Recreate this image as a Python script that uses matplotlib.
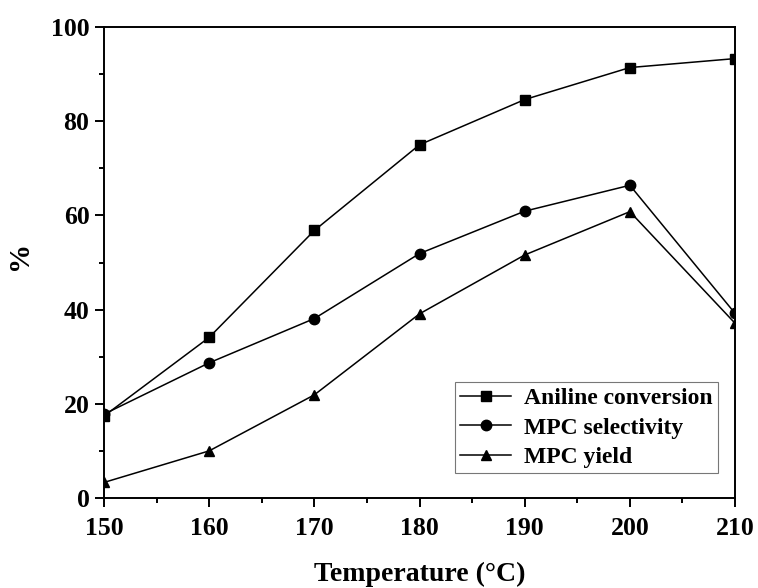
import matplotlib
matplotlib.use("Agg")
import matplotlib.pyplot as plt
from matplotlib.ticker import MultipleLocator

# data
temperature = [150, 160, 170, 180, 190, 200, 210]
aniline_conversion = [17.4, 34.1, 56.8, 75.0, 84.6, 91.4, 93.3]
mpc_selectivity = [17.8, 28.7, 38.1, 51.9, 60.9, 66.4, 39.2]
mpc_yield = [3.3, 10.0, 21.9, 39.1, 51.6, 60.8, 37.1]

plt.rcParams['font.family'] = ['Liberation Serif', 'DejaVu Serif']
plt.rcParams['font.weight'] = 'bold'

fig = plt.figure(figsize=(7.58, 5.88), dpi=100)
ax = fig.add_axes([0.1372, 0.1531, 0.8325, 0.8009])

style = dict(color='black', linewidth=1.1, markersize=7.5)
ax.plot(temperature, aniline_conversion, marker='s', label='Aniline conversion', **style)
ax.plot(temperature, mpc_selectivity, marker='o', label='MPC selectivity', **style)
ax.plot(temperature, mpc_yield, marker='^', label='MPC yield', **style)

ax.set_xlim(150, 210)
ax.set_ylim(0, 100)
ax.xaxis.set_major_locator(MultipleLocator(10))
ax.xaxis.set_minor_locator(MultipleLocator(5))
ax.yaxis.set_major_locator(MultipleLocator(20))
ax.yaxis.set_minor_locator(MultipleLocator(10))

for side in ['left', 'bottom', 'right', 'top']:
    ax.spines[side].set_linewidth(1.4)

ax.tick_params(which='major', direction='out', length=6.5, width=1.4, labelsize=18.5,
               top=False, right=False)
ax.tick_params(axis='x', which='major', pad=7)
ax.tick_params(axis='y', which='major', pad=4)
ax.tick_params(which='minor', direction='out', length=3.5, width=1.4, top=False, right=False)
for lbl in ax.get_xticklabels() + ax.get_yticklabels():
    lbl.set_fontweight('bold')

ax.set_xlabel('Temperature (°C)', fontsize=20, fontweight='bold', labelpad=16)
ax.set_ylabel('%', fontsize=21, fontweight='bold')
ax.yaxis.set_label_coords(-0.112, 0.516)

leg = ax.legend(loc='lower right', bbox_to_anchor=(0.973, 0.053), frameon=True,
                fancybox=False, edgecolor='#555555', handlelength=2.16, handletextpad=0.55,
                labelspacing=0.33, borderpad=0.22, borderaxespad=0,
                prop={'weight': 'bold', 'size': 17})
leg.get_frame().set_linewidth(0.8)

plt.savefig('out.png', dpi=100)
